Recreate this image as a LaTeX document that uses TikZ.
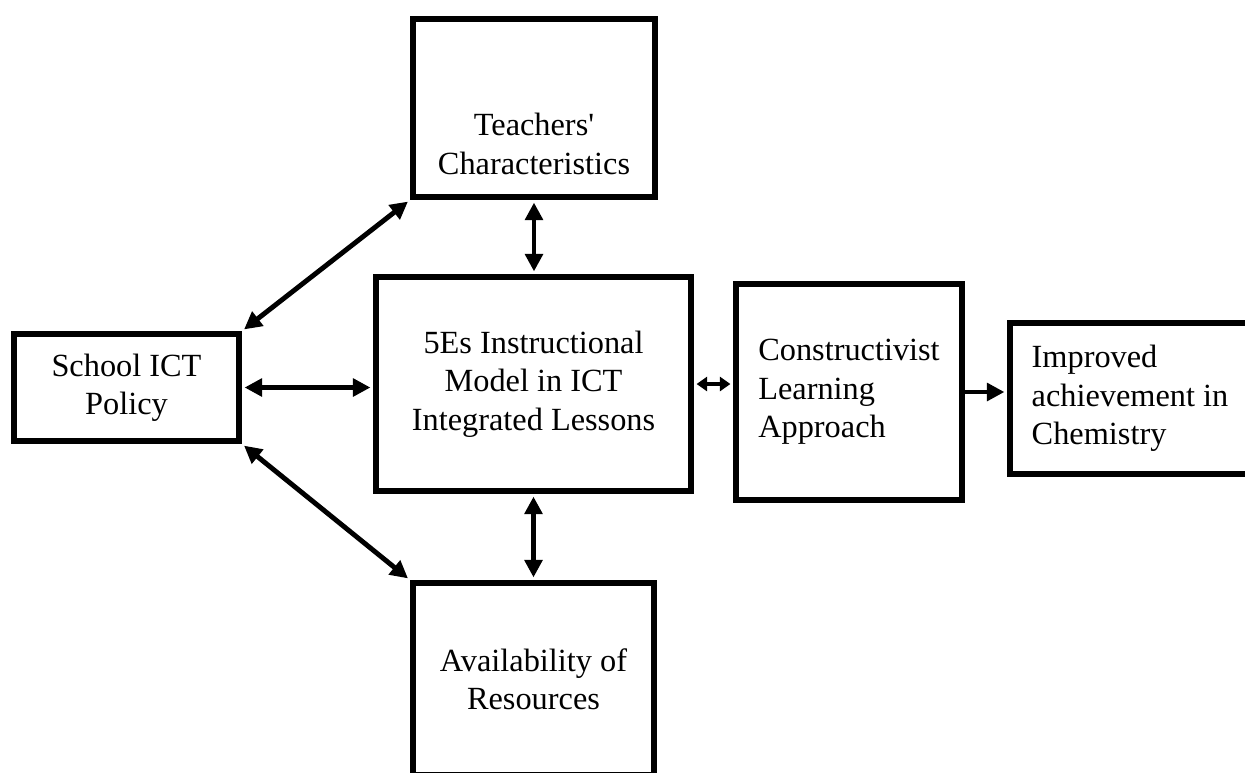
\documentclass[tikz,border=0pt]{standalone}
\usepackage{fontspec}
\setmainfont{Liberation Serif}
\usetikzlibrary{arrows.meta}
\definecolor{color_trait}{rgb}{0,0,0}
\definecolor{color_fond}{rgb}{1,1,1}

\tikzset{
	boite/.style={draw=color_trait, line width=3.4pt, inner sep=0pt, align=center,
		font=\fontsize{18.4}{21.8}\selectfont},
	texte/.style={inner sep=0pt, align=center, font=\fontsize{18.4}{21.8}\selectfont},
	pointe/.tip={Triangle[length=10pt,width=10pt]},
	petitepointe/.tip={Triangle[length=6pt,width=8pt]},
	fleche/.style={draw=color_trait, line width=2.8pt, shorten >=1.5pt, shorten <=1.5pt, pointe-pointe},
	flechecourte/.style={draw=color_trait, line width=2.8pt, shorten >=1.5pt, shorten <=1.5pt, petitepointe-petitepointe},
	flechesimple/.style={draw=color_trait, line width=2.8pt, shorten >=1.5pt, -pointe}
}

\begin{document}
\begin{tikzpicture}[x=0.02cm, y=-0.02cm]
	% Fond et cadre de l'image
	\fill[color_fond] (0,0) rectangle (1245,772);
	\clip (0,0) rectangle (1245,772);

	% Boites
	\node[boite, minimum width=4.84cm, minimum height=3.56cm] (teach) at (534,108) {};
	\node[texte] (teachtxt) at (534,144) {Teachers\textquotesingle\\Characteristics};
	\node[boite, minimum width=6.3cm, minimum height=4.28cm] (five) at (533.5,384)
		{5Es Instructional\\Model in ICT\\Integrated Lessons};
	\node[boite, minimum width=4.5cm, minimum height=2.14cm] (school) at (126.5,387.5)
		{School ICT\\Policy};
	\node[boite, minimum width=4.82cm, minimum height=3.84cm] (avail) at (533.5,679)
		{Availability of\\Resources};
	\node[boite, align=left, minimum width=4.52cm, minimum height=4.32cm] (constr) at (849,392)
		{Constructivist\\Learning\\Approach};
	\node[boite, align=left, minimum width=4.8cm, minimum height=3.02cm] (impr) at (1130,398.5)
		{Improved\\achievement in\\Chemistry};

	% Fleches
	\draw[fleche] (school.north east) -- (teach.south west);
	\draw[fleche] (school.south east) -- (avail.north west);
	\draw[fleche] (school.east) -- (school.east -| five.west);
	\draw[fleche] (teach.south) -- (teach.south |- five.north);
	\draw[fleche] (five.south) -- (five.south |- avail.north);
	\draw[flechecourte] (constr.west |- five.east) -- (five.east);
	\draw[flechesimple] (constr.east) -- (constr.east -| impr.west);
\end{tikzpicture}
\end{document}
